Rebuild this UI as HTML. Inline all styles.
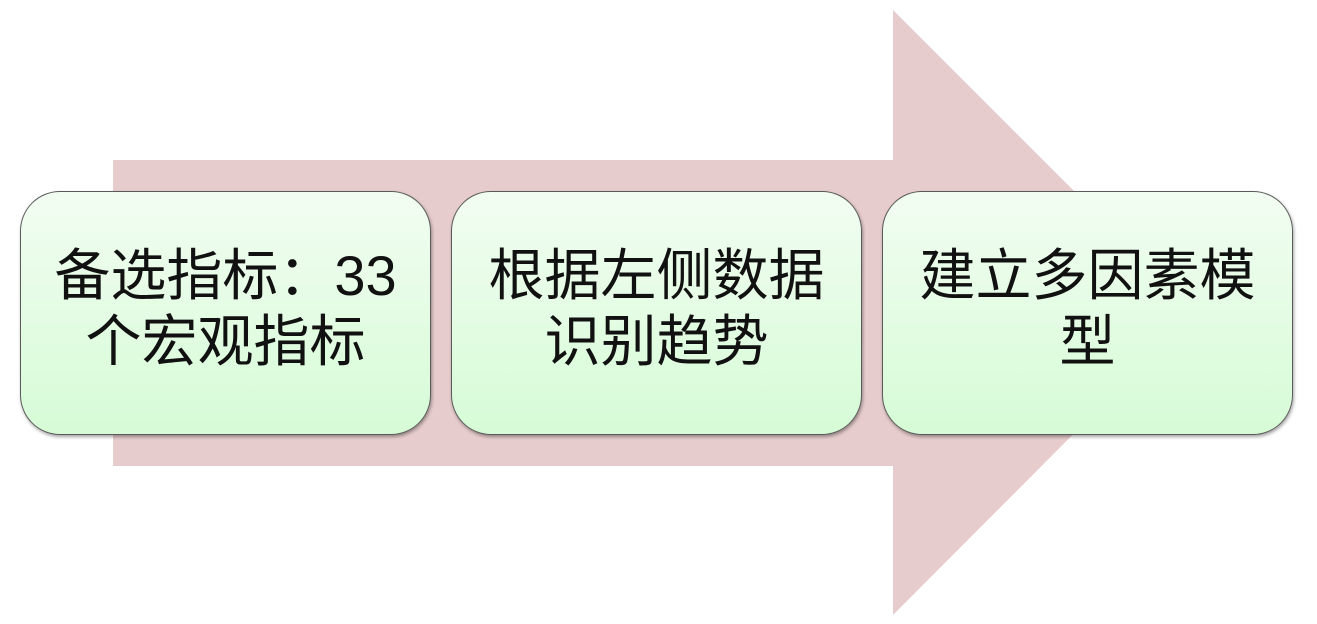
<!DOCTYPE html>
<html><head><meta charset="utf-8"><style>
body{margin:0;width:1317px;height:624px;background:#fff;position:relative;overflow:hidden;font-family:"Liberation Sans","Noto Sans CJK SC",sans-serif;}
.b{position:absolute;top:191px;width:411px;height:244px;border:1.5px solid #5a5a5a;border-radius:40px;background:linear-gradient(#f2fdf2,#d6fbd6);box-shadow:1px 2px 3px rgba(0,0,0,.35);display:flex;align-items:center;justify-content:center;text-align:center;font-size:56px;line-height:66px;color:#111;box-sizing:border-box;padding:0 0 8px 0;white-space:nowrap}
</style></head><body>
<svg width="1317" height="624" style="position:absolute;left:0;top:0">
<polygon points="113,160 893,160 893,10 1195,312 893,615 893,466 113,466" fill="#e6cccc"/>
</svg>
<div class="b" style="left:20px">备选指标：33<br>个宏观指标</div>
<div class="b" style="left:451px">根据左侧数据<br>识别趋势</div>
<div class="b" style="left:882px">建立多因素模<br>型</div>
</body></html>
